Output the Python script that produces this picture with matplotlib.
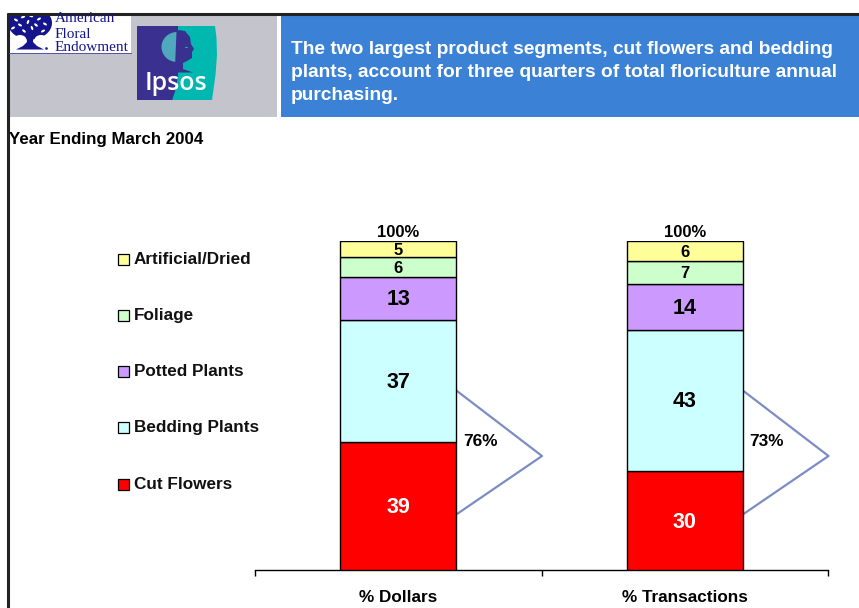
import numpy as np
import matplotlib
matplotlib.use("Agg")
import matplotlib.pyplot as plt
from matplotlib.patches import Rectangle, Polygon, Circle, Ellipse

plt.rcParams['font.family'] = ['Liberation Sans', 'DejaVu Sans']

categories = ['% Dollars', '% Transactions']
segments = ['Cut Flowers', 'Bedding Plants', 'Potted Plants', 'Foliage', 'Artificial/Dried']
cut_flowers = [39, 30]
bedding_plants = [37, 43]
potted_plants = [13, 14]
foliage = [6, 7]
artificial_dried = [5, 6]
series = [cut_flowers, bedding_plants, potted_plants, foliage, artificial_dried]
colors = ['#FF0000', '#CCFFFF', '#CC99FF', '#CCFFCC', '#FFFF99']
label_colors = ['white', 'black', 'black', 'black', 'black']
label_sizes = [15.5, 15.5, 15.5, 12, 12]
totals = ['100%', '100%']
bracket_labels = ['76%', '73%']
title_lines = ['The two largest product segments, cut flowers and bedding',
               'plants, account for three quarters of total floriculture annual',
               'purchasing.']
W, H = 859, 608
fig = plt.figure(figsize=(W/100, H/100), dpi=100)

# pixel overlay
ov = fig.add_axes([0, 0, 1, 1], zorder=0)
ov.set_xlim(0, W); ov.set_ylim(H, 0); ov.axis('off')

# chart
ax = fig.add_axes([255/W, 1-570/H, 573/W, 329/H], zorder=2)
ax.patch.set_alpha(0)
x = np.arange(len(categories))
bottom = np.zeros(len(categories))
for vals, c, lc, fs in zip(series, colors, label_colors, label_sizes):
    ax.bar(x, vals, 0.405, bottom=bottom, color=c, edgecolor='black', linewidth=1.0, zorder=3)
    for xi, v, b in zip(x, vals, bottom):
        ax.annotate(str(v), (xi, b + v/2), xytext=(0, -1), textcoords='offset points',
                    ha='center', va='center', color=lc,
                    fontsize=fs, fontweight='bold', zorder=4)
    bottom = bottom + np.array(vals)
for xi, b, t in zip(x, bottom, totals):
    ax.text(xi, b + 0.2, t, ha='center', va='bottom', fontsize=12, fontweight='bold', linespacing=1)
ax.set_xlim(-0.5, 1.5); ax.set_ylim(0, 100)
for s in ['top', 'left', 'right']:
    ax.spines[s].set_visible(False)
ax.spines['bottom'].set_linewidth(1.0)
ax.set_yticks([])
ax.set_xticks([-0.5, 0.5, 1.5]); ax.set_xticklabels([])
ax.tick_params(axis='x', direction='out', length=4, width=1)
for xi, c in zip(x, categories):
    ax.annotate(c, (xi, 0), xytext=(0, -19.8), xycoords='data', textcoords='offset points',
                ha='center', va='center', fontsize=12.3, fontweight='bold')

# brackets
for dx, lab in zip([0, 286.5], bracket_labels):
    ov.plot([457+dx, 542+dx, 457+dx], [391, 456, 514], color='#7C8CC4', lw=1.6, zorder=1)
    ov.text(480+dx, 441.5, lab, ha='center', va='center', fontsize=12.4, fontweight='bold', zorder=5)

# legend
for seg, c, y in zip(segments, colors, [484, 427, 371, 315, 259]):
    ov.add_patch(Rectangle((118, y-5.5), 11, 11, fc=c, ec='black', lw=0.9))
    ov.text(134, y+0.5, seg, ha='left', va='center', fontsize=12.3, fontweight='bold', color='#111111')

# header
ov.add_patch(Rectangle((9, 14), 268, 103, fc='#C4C4CC', ec='none'))
ov.add_patch(Rectangle((281, 15), 578, 102, fc='#3B82D6', ec='none'))
ov.plot([7, 859], [13.5, 13.5], color='#222222', lw=2.2, solid_capstyle='butt')
ov.plot([8, 8], [13, 608], color='#222222', lw=2.2, solid_capstyle='butt')
for line, y in zip(title_lines, [49.5, 72.5, 95.5]):
    ov.text(291, y, line, ha='left', va='center', color='white', fontsize=13.8, fontweight='bold')
ov.text(9, 139.5, 'Year Ending March 2004', ha='left', va='center', fontsize=12.15, fontweight='bold')

# American Floral Endowment logo
navy = '#14148C'
ov.add_patch(Rectangle((9, 14), 122, 39.5, fc='white', ec='none'))
clip = Rectangle((9, 14), 122, 39.5, transform=ov.transData)
tree = Ellipse((30, 23), 44, 33, fc=navy, ec='none'); ov.add_patch(tree); tree.set_clip_path(clip)
ov.add_patch(Ellipse((20, 40), 13, 10, fc='white', ec='none'))
ov.add_patch(Ellipse((41, 40), 13, 10, fc='white', ec='none'))
ov.add_patch(Polygon([[26, 32], [34, 32], [33, 42], [37, 46], [44, 49.5], [16, 49.5], [23, 46], [27, 42]],
                     fc=navy, ec='none'))
ov.add_patch(Circle((46.5, 48.5), 1.3, fc=navy, ec='none'))
for px, py, ang in [(16, 20, 30), (23, 17, -20), (31, 16, 20), (39, 19, -30), (45, 24, 30), (13, 28, -30),
                    (20, 25, 30), (28, 22, -70), (36, 25, 40), (43, 31, -30), (24, 31, 40), (32, 28, 70)]:
    ov.add_patch(Ellipse((px, py), 4.4, 2.2, angle=ang, fc='white', ec='none'))
ov.plot([9, 131], [53, 53], color='#5050A8', lw=0.7)
for t, y in zip(['American', 'Floral', 'Endowment'], [19, 34, 47.5]):
    ov.text(55, y, t, ha='left', va='center', fontsize=11, family=['Liberation Serif'], color=navy)

# Ipsos logo
purple = '#3A3090'
teal_c = '#00B8B0'
ov.add_patch(Rectangle((137, 26), 42, 74, fc=purple, ec='none'))
ov.add_patch(Polygon([[178, 26], [215, 26], [216.5, 38], [217, 55], [215.5, 75], [212, 100], [172, 100],
                      [176, 88], [178, 75]], fc=teal_c, ec='none'))
ov.add_patch(Polygon([[137, 72], [178, 72], [176, 88], [172, 100], [137, 100]], fc=purple, ec='none'))
# crown of the tree, left half of the profile
ov.add_patch(Ellipse((177, 47), 31, 30, fc='#4FA8BC', ec='none'))
ov.add_patch(Rectangle((178, 26), 15, 44, fc=teal_c, ec='none'))
# trunk and head
ov.add_patch(Polygon([[176.5, 32], [179, 30], [185, 31], [190, 37], [191, 44], [194, 49], [192, 52], [192, 58],
                     [187, 61], [183, 63], [183, 69], [193, 72.5], [168, 72.5], [175, 69], [175.5, 55]],
                     fc=purple, ec='none'))
ov.add_patch(Ellipse((186.5, 47.5), 3, 1.2, fc=teal_c, ec='none'))
ov.text(175.5, 84, 'Ipsos', ha='center', va='center', color='white', fontsize=18, fontweight='semibold',
        family=['Open Sans'], zorder=5)

fig.savefig('out.png', dpi=100)
